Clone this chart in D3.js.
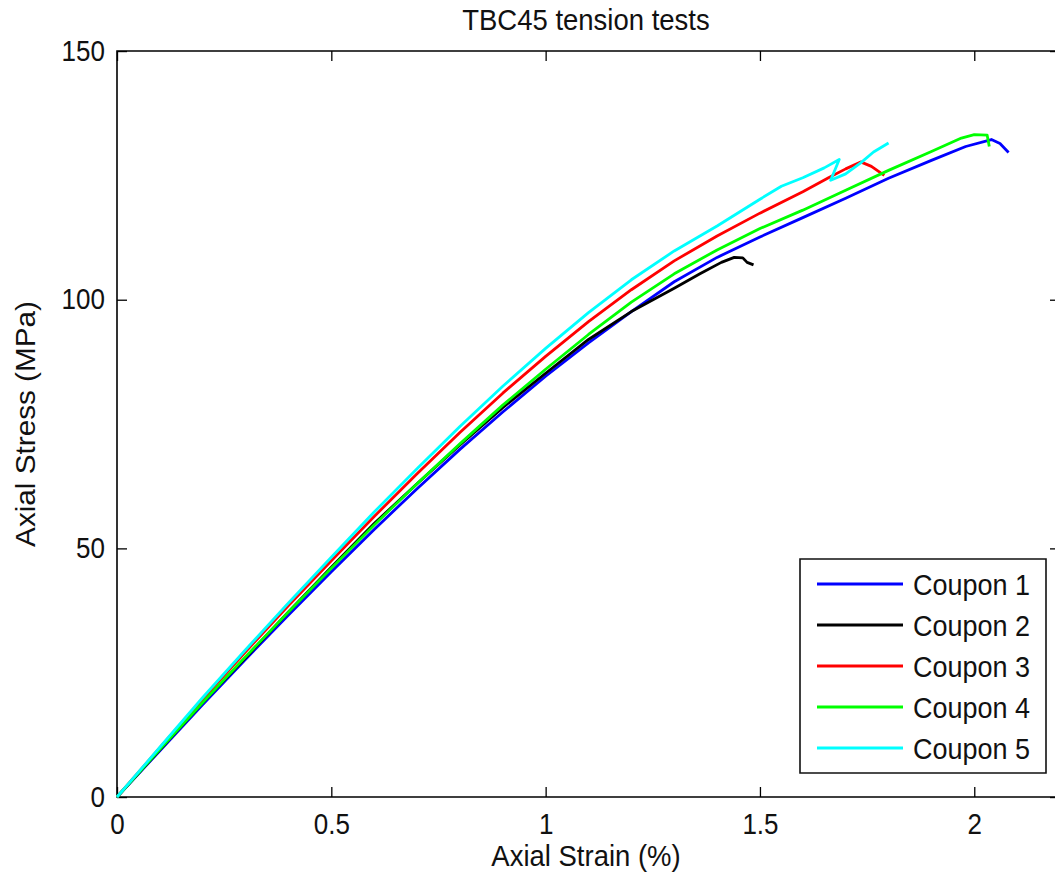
<!DOCTYPE html>
<html><head><meta charset="utf-8">
<script src="https://cdn.jsdelivr.net/npm/d3@7"></script>
<style>
body{margin:0;background:#fff;}
svg{display:block;}
text{font-family:"Liberation Sans",Arial,Helvetica,sans-serif;fill:#111;}
</style>
</head><body><svg id="c"></svg>
<script>
// ---- data (strain %, stress MPa) ----
const seriesNames = ["Coupon 1","Coupon 2","Coupon 3","Coupon 4","Coupon 5"];
const seriesColors = ["#0000ff","#000000","#ff0000","#00ff00","#00ffff"];
const coupon1 = [[0,0],[0.1,9.3],[0.2,18.6],[0.3,27.7],[0.4,36.6],[0.5,45.3],[0.6,53.8],[0.7,62],[0.8,69.9],[0.9,77.4],[1.0,84.6],[1.1,91.3],[1.2,97.6],[1.3,103.6],[1.4,108.5],[1.5,112.6],[1.6,116.5],[1.7,120.4],[1.8,124.4],[1.9,128],[1.98,130.8],[2.04,132.2],[2.06,131.4],[2.08,129.6]];
const coupon2 = [[0,0],[0.1,9.5],[0.2,19],[0.3,28],[0.4,37.2],[0.5,46.2],[0.6,55],[0.7,63],[0.8,70.8],[0.9,78.3],[1.0,85.2],[1.1,92],[1.2,97.6],[1.3,102.3],[1.36,105.2],[1.41,107.5],[1.44,108.5],[1.46,108.4],[1.47,107.5],[1.485,107]];
const coupon3 = [[0,0],[0.1,9.9],[0.2,19.7],[0.3,29.2],[0.4,38.5],[0.5,47.5],[0.6,56.4],[0.7,65],[0.8,73.3],[0.9,81.2],[1.0,88.6],[1.1,95.6],[1.2,102],[1.3,107.8],[1.4,112.8],[1.5,117.4],[1.6,121.7],[1.66,124.5],[1.7,126.3],[1.735,127.7],[1.76,126.8],[1.79,125]];
const coupon4 = [[0,0],[0.1,9.6],[0.2,19],[0.3,28.2],[0.4,37.2],[0.5,46],[0.6,54.7],[0.7,63],[0.8,71],[0.9,78.8],[1.0,86],[1.1,93],[1.2,99.5],[1.3,105.2],[1.4,110],[1.5,114.3],[1.6,118],[1.7,122],[1.8,126],[1.9,129.8],[1.97,132.5],[2.0,133.2],[2.03,133.1],[2.035,130.8]];
const coupon5 = [[0,0],[0.1,10],[0.2,20],[0.3,29.6],[0.4,39],[0.5,48.2],[0.6,57.3],[0.7,66],[0.8,74.5],[0.9,82.6],[1.0,90.2],[1.1,97.4],[1.2,104],[1.3,109.8],[1.4,114.8],[1.5,120.2],[1.55,122.8],[1.6,124.5],[1.65,126.5],[1.685,128.2],[1.665,124],[1.7,125.3],[1.735,127.5],[1.765,129.7],[1.8,131.5]];
const seriesData = [coupon1,coupon2,coupon3,coupon4,coupon5];
const xTicks = [0,0.5,1,1.5,2];
const yTicks = [0,50,100,150];
const xDomain = [0,2.2];
const yDomain = [0,150];
const titleText = "TBC45 tension tests";
const xLabel = "Axial Strain (%)";
const yLabel = "Axial Stress (MPa)";

// ---- layout ----
const W=1055, H=878, SY=1.1, VH=H/SY;
const svg=d3.select("#c").attr("width",W).attr("height",H)
  .attr("viewBox",`0 0 ${W} ${VH}`).attr("preserveAspectRatio","none");
const L=117, R=1060, T=51/SY, B=797/SY;
const x=d3.scaleLinear().domain(xDomain).range([L,R]);
const y=d3.scaleLinear().domain(yDomain).range([B,T]);

const fmt=d3.format("");
function styleAxis(g){
  g.select(".domain").remove();
  g.selectAll("line").attr("stroke","#000").attr("stroke-width",1.3).attr("vector-effect","non-scaling-stroke");
  g.selectAll("text").attr("font-size",26).attr("fill","#111")
   .attr("font-family",'"Liberation Sans",Arial,sans-serif');
}
svg.append("g").attr("transform",`translate(0,${B})`)
  .call(d3.axisBottom(x).tickValues(xTicks).tickFormat(fmt).tickSizeInner(-10/SY).tickSizeOuter(0).tickPadding(15))
  .call(styleAxis);
svg.append("g").attr("transform",`translate(0,${T})`)
  .call(d3.axisTop(x).tickValues(xTicks).tickFormat("").tickSizeInner(-10/SY).tickSizeOuter(0))
  .call(styleAxis);
svg.append("g").attr("transform",`translate(${L},0)`)
  .call(d3.axisLeft(y).tickValues(yTicks).tickFormat(fmt).tickSizeInner(-10).tickSizeOuter(0).tickPadding(12))
  .call(styleAxis);
svg.append("g").attr("transform",`translate(${R},0)`)
  .call(d3.axisRight(y).tickValues(yTicks).tickFormat("").tickSizeInner(-10).tickSizeOuter(0))
  .call(styleAxis);
svg.selectAll("g.tick text").attr("font-size",26);

// frame
svg.append("rect").attr("x",L).attr("y",T).attr("width",R-L).attr("height",B-T)
  .attr("fill","none").attr("stroke","#000").attr("stroke-width",1.6).attr("vector-effect","non-scaling-stroke");

// series
const line=d3.line().x(d=>x(d[0])).y(d=>y(d[1]));
seriesData.forEach((s,i)=>{
  svg.append("path").datum(s).attr("d",line).attr("fill","none")
    .attr("stroke",seriesColors[i]).attr("stroke-width",2.8)
    .attr("stroke-linejoin","round").attr("vector-effect","non-scaling-stroke");
});

// title / labels
svg.append("text").attr("x",586).attr("y",30/SY).attr("text-anchor","middle").attr("font-size",27.5).text(titleText);
svg.append("text").attr("x",586).attr("y",866/SY).attr("text-anchor","middle").attr("font-size",27.5).text(xLabel);
svg.append("text").attr("transform",`translate(35,${424/SY}) rotate(-90)`).attr("text-anchor","middle").attr("font-size",27).text(yLabel);

// legend
const lg=svg.append("g");
lg.append("rect").attr("x",800).attr("y",559/SY).attr("width",246).attr("height",(773-559)/SY)
  .attr("fill","#fff").attr("stroke","#111").attr("stroke-width",1.6).attr("vector-effect","non-scaling-stroke");
seriesNames.forEach((n,i)=>{
  const yy=(584+i*41)/SY;
  lg.append("line").attr("x1",817).attr("x2",903).attr("y1",yy).attr("y2",yy)
    .attr("stroke",seriesColors[i]).attr("stroke-width",3.2).attr("vector-effect","non-scaling-stroke");
  lg.append("text").attr("x",913).attr("y",yy).attr("dy","0.36em").attr("font-size",27).text(n);
});
</script>
</body></html>
